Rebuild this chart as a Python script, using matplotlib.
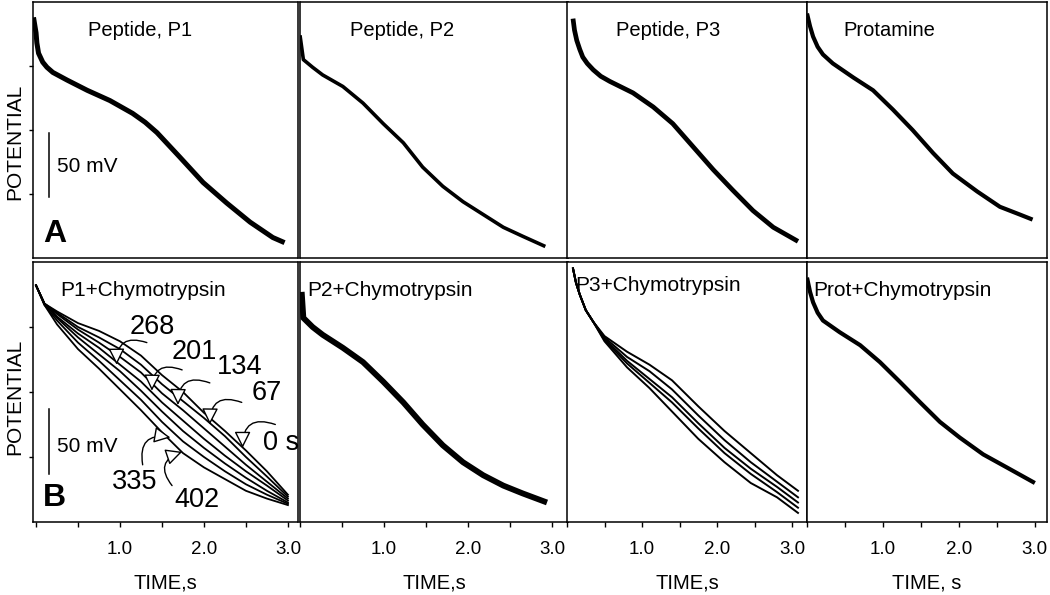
import matplotlib.pyplot as plt

plt.rcParams['font.family'] = ['Liberation Sans', 'DejaVu Sans']

# ---- data (time in s, potential in mV, arbitrary offset)
t_p1 = [-0.03, 0.0, 0.01, 0.03, 0.08, 0.13, 0.2, 0.37, 0.61, 0.88, 1.15, 1.3, 1.44, 1.71, 1.99, 2.27, 2.55, 2.82, 2.96]
v_p1 = [188, 176, 168, 160, 153, 149, 145, 139, 131, 123, 113, 106, 98, 79, 59, 43, 28, 16, 12]

t_p2 = [0.0, 0.04, 0.15, 0.27, 0.51, 0.75, 0.99, 1.23, 1.46, 1.7, 1.94, 2.18, 2.42, 2.65, 2.92]
v_p2 = [174, 155, 149, 143, 134, 121, 105, 90, 71, 56, 44, 34, 24, 17, 9]

t_p3 = [0.08, 0.1, 0.13, 0.17, 0.21, 0.27, 0.35, 0.45, 0.57, 0.88, 1.15, 1.41, 1.68, 1.95, 2.21, 2.48, 2.75, 3.08]
v_p3 = [187, 178, 170, 163, 157, 152, 147, 142, 138, 129, 118, 105, 87, 69, 53, 37, 24, 13]

t_prot = [0.0, 0.04, 0.08, 0.14, 0.21, 0.34, 0.61, 0.87, 1.13, 1.39, 1.66, 1.92, 2.24, 2.54, 2.8, 2.97]
v_prot = [191, 181, 173, 165, 159, 152, 141, 131, 116, 100, 82, 66, 52, 40, 34, 30]

# P1 + chymotrypsin, one trace per incubation time
t_b1 = [0.0, 0.1, 0.25, 0.5, 0.75, 1.0, 1.25, 1.5, 1.75, 2.0, 2.25, 2.5, 2.75, 3.0]
b1_0 = [182, 168, 162, 153, 147, 139, 128, 113, 100, 84, 70, 55, 39, 21]
b1_67 = [182, 168, 161, 150, 142, 133, 121, 106, 93, 80, 66, 50, 35, 19.5]
b1_134 = [182, 168, 160, 148, 138, 127, 115, 99, 86, 72, 58, 44, 31, 18]
b1_201 = [182, 168, 158, 145, 134, 121, 108, 92, 78, 64, 51, 39, 28, 16.5]
b1_268 = [182, 168, 157, 142, 129, 116, 101, 85, 70, 57, 45, 34, 24, 15]
b1_335 = [182, 167, 155, 138, 124, 109, 94, 77, 62, 50, 39, 29, 21, 14]
b1_402 = [182, 167, 152, 133, 118, 102, 86, 69, 53, 42, 33, 24, 18, 13]
b1_traces = [b1_0, b1_67, b1_134, b1_201, b1_268, b1_335, b1_402]

t_b2 = [0.02, 0.04, 0.15, 0.27, 0.51, 0.75, 0.99, 1.23, 1.46, 1.7, 1.94, 2.18, 2.42, 2.65, 2.94]
v_b2 = [177, 157, 150, 144, 134, 123, 108, 92, 75, 59, 46, 36, 28, 22, 15]

t_b3 = [0.08, 0.12, 0.17, 0.25, 0.35, 0.5, 0.8, 1.1, 1.4, 1.75, 2.1, 2.45, 2.8, 3.08]
b3_1 = [195, 184, 175, 163, 154, 143, 131, 121, 109, 89, 70, 53, 36, 24]
b3_2 = [195, 184, 175, 163, 154, 142, 127, 116, 102, 82, 63, 46, 31, 19]
b3_3 = [195, 184, 175, 163, 154, 141, 124, 110, 96, 76, 57, 41, 27, 15]
b3_4 = [195, 184, 175, 163, 154, 140, 122, 107, 92, 72, 53, 37, 23, 11]
b3_5 = [195, 184, 175, 163, 154, 139, 119, 103, 85, 64, 46, 30, 19, 7]
b3_traces = [b3_1, b3_2, b3_3, b3_4, b3_5]

t_b4 = [0.0, 0.04, 0.08, 0.14, 0.21, 0.43, 0.7, 0.96, 1.22, 1.49, 1.75, 2.01, 2.32, 2.63, 3.0]
v_b4 = [188, 177, 169, 161, 155, 146, 136, 123, 108, 92, 77, 65, 52, 42, 30]

top_titles = ['Peptide, P1', 'Peptide, P2', 'Peptide, P3', 'Protamine']
bot_titles = ['P1+Chymotrypsin', 'P2+Chymotrypsin', 'P3+Chymotrypsin', 'Prot+Chymotrypsin']
xlabels = ['TIME,s', 'TIME,s', 'TIME,s', 'TIME, s']
scale_mv = 50

# ---- layout (pixel boxes of the original)
W, H = 1050, 595
cols = [(33, 298), (300, 568), (567, 807), (807, 1047)]
xlims = [(-0.036, 3.12), (0, 3.19), (0, 3.2), (0, 3.16)]
rows = [(2, 258), (262, 522)]


def box(x0, x1, y0, y1):
    return [x0 / W, 1 - y1 / H, (x1 - x0) / W, (y1 - y0) / H]


def ftext(px, py, s, **kw):
    fig.text(px / W, 1 - py / H, s, ha=kw.pop('ha', 'center'), va=kw.pop('va', 'center'), **kw)


fig = plt.figure(figsize=(10.5, 5.95), dpi=100)

axes = []
for r, (y0, y1) in enumerate(rows):
    row = []
    for c, (x0, x1) in enumerate(cols):
        ax = fig.add_axes(box(x0, x1, y0, y1))
        ax.set_xlim(*xlims[c])
        ax.set_ylim(0, 200)
        for sp in ax.spines.values():
            sp.set_linewidth(1.1)
        if c == 0:
            ax.set_yticks([50, 100, 150])
            ax.tick_params(axis='y', direction='out', length=3, width=1, labelleft=False)
        else:
            ax.set_yticks([])
        if r == 0:
            ax.set_xticks([])
        else:
            ax.set_xticks([0, 1, 2, 3])
            ax.set_xticklabels(['', '1.0', '2.0', '3.0'])
            ax.set_xticks([0.5, 1.5, 2.5], minor=True)
            ax.tick_params(axis='x', which='both', direction='out', length=3.5, width=1,
                           labelsize=13.5, pad=10)
            ax.set_xlabel(xlabels[c], fontsize=14.5, labelpad=11)
        row.append(ax)
    axes.append(row)

band = dict(color='black', solid_capstyle='butt', solid_joinstyle='round')
thin = dict(color='black', solid_joinstyle='round')

# top row
axes[0][0].plot(t_p1, v_p1, lw=3.6, **band)
axes[0][1].plot(t_p2, v_p2, lw=2.6, **band)
axes[0][2].plot(t_p3, v_p3, lw=3.4, **band)
axes[0][3].plot(t_prot, v_prot, lw=3.0, **band)

# bottom row
for tr in b1_traces:
    axes[1][0].plot(t_b1, tr, lw=1.3, **thin)
axes[1][1].plot(t_b2, v_b2, lw=4.2, **band)
for tr in b3_traces:
    axes[1][2].plot(t_b3, tr, lw=1.4, **thin)
axes[1][3].plot(t_b4, v_b4, lw=3.0, **band)

# scale bars (50 mV)
axes[0][0].plot([0.155, 0.155], [48, 48 + scale_mv], color='black', lw=1.1)
axes[1][0].plot([0.155, 0.155], [37, 37 + scale_mv], color='black', lw=1.1)

# incubation time arrows: (label, tip, tail, text position, rad)
ann = [
    ('268', (0.96, 121), (1.32, 138), (1.39, 150), 0.7),
    ('201', (1.38, 101), (1.74, 117), (1.89, 131), 0.7),
    ('134', (1.69, 90), (2.07, 107), (2.42, 119), 0.7),
    ('67', (2.07, 75), (2.45, 92), (2.75, 99), 0.7),
    ('0 s', (2.46, 57), (2.85, 75), (2.92, 61), 0.7),
    ('335', (1.60, 65), (1.27, 44), (1.18, 31), -0.7),
    ('402', (1.74, 54), (1.62, 28), (1.92, 17), -0.7),
]
axb = axes[1][0]
for lab, tip, tail, pos, rad in ann:
    axb.annotate('', xy=tip, xytext=tail,
                 arrowprops=dict(arrowstyle='-|>,head_length=1.0,head_width=0.5',
                                 fc='white', ec='black', lw=1.0,
                                 connectionstyle='arc3,rad=%s' % rad,
                                 shrinkA=0, shrinkB=0))
    axb.text(pos[0], pos[1], lab, fontsize=19.5, ha='center', va='center')

# panel texts
top_x = [140, 402, 668, 889]
for c, s in enumerate(top_titles):
    ftext(top_x[c], 30, s, fontsize=14.5)
bot_x = [60, 307, 575, 813]
bot_y = [290, 290, 285, 290]
for c, s in enumerate(bot_titles):
    ftext(bot_x[c], bot_y[c], s, fontsize=15, ha='left')

ftext(55, 234, 'A', fontsize=23, fontweight='bold')
ftext(54, 498, 'B', fontsize=23, fontweight='bold')
ftext(57, 167, '50 mV', fontsize=15, ha='left')
ftext(57, 446, '50 mV', fontsize=15, ha='left')
ftext(15, 142, 'POTENTIAL', fontsize=15, rotation=90)
ftext(15, 397, 'POTENTIAL', fontsize=15, rotation=90)

fig.savefig('out.png', dpi=100)
